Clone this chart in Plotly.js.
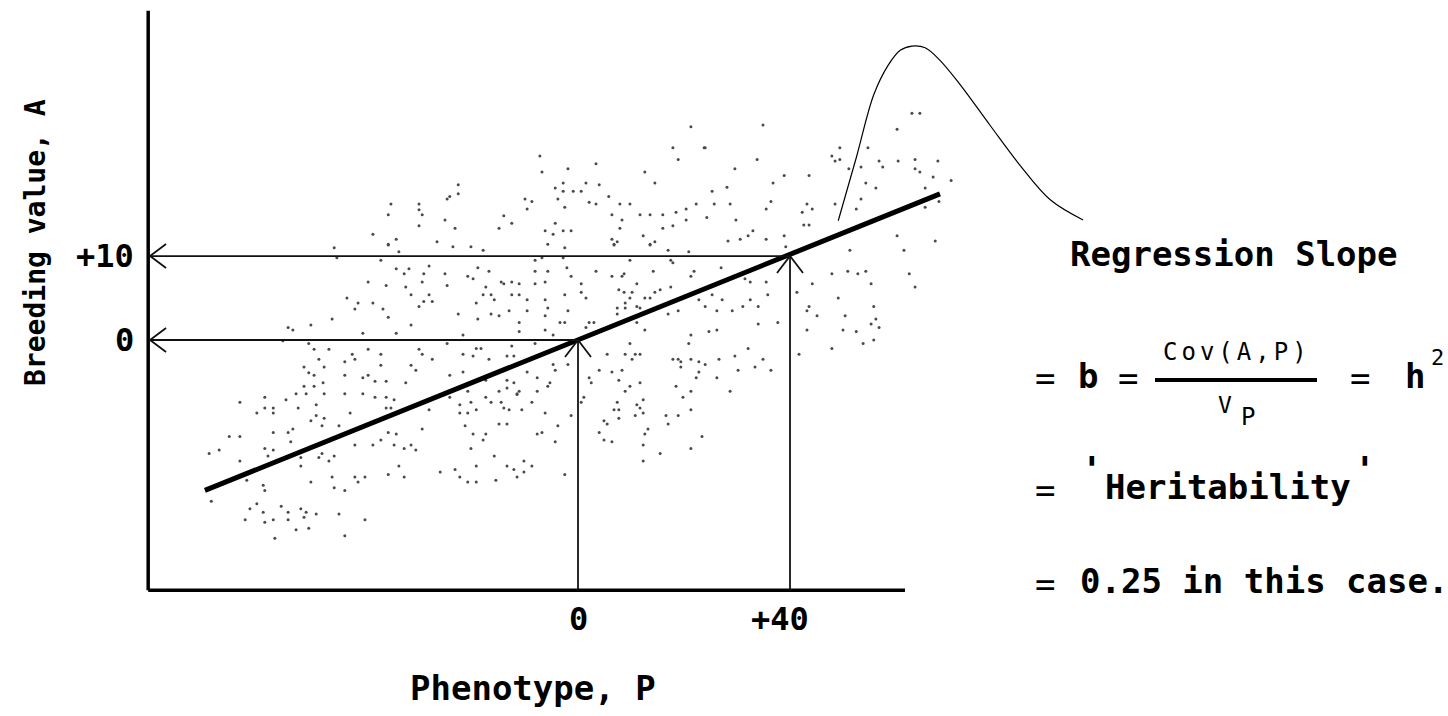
<!DOCTYPE html>
<html>
<head>
<meta charset="utf-8">
<script src="https://cdn.plot.ly/plotly-3.0.1.min.js"></script>
<style>html,body{margin:0;padding:0;background:#fff;}#chart{width:1448px;height:716px;}</style>
</head>
<body>
<div id="chart"></div>
<script>
// ---------- data ----------
// Phenotype P and breeding value A of each individual in the cloud
const phenotype = [
  -35.3,-30.0,-30.0,-35.8,-29.4,-24.7,-25.1,-30.0,-38.7,-34.3,-35.8,-26.6,
  -22.6,-22.6,-24.2,-23.2,-7.2,-6.8,-1.9,3.4,21.3,17.9,18.9,23.8,12.6,14.5,-2.8,-4.3,-2.8,-0.9,0.6,1.5,4.0,-3.8,-10.0,-8.7,-9.6,-14.0,-12.5,-14.9,-2.5,2.1,3.4,5.8,7.9,9.8,6.4,8.3,7.9,11.7,13.6,16.0,18.5,20.4,22.3,20.4,17.9,16.0,-4.3,-6.2,-4.7,-2.8,-1.3,-5.7,6.4,7.4,6.8,12.3,13.6,14.5,
  24.0,34.9,33.8,29.6,38.9,43.6,36.8,25.3,28.1,25.7,28.7,36.4,35.5,24.3,29.8,43.2,42.3,44.2,42.6,43.6,33.0,32.1,30.6,28.3,35.5,38.9,47.9,49.4,48.5,49.4,54.7,51.1,53.4,56.8,57.5,60.4,60.2,63.0,64.5,63.6,63.6,64.5,67.9,67.0,70.4,54.3,56.2,65.5,53.4,52.5,48.5,65.5,68.1,60.2,67.4,
  -46.0,-35.8,-33.8,-45.5,-37.2,-34.3,-32.8,-31.9,-28.1,-29.1,-25.1,-39.6,-36.2,-32.5,-29.4,-24.7,-43.6,-41.5,-42.1,-38.7,-36.8,-31.5,-28.1,-29.1,-27.5,-30.0,-35.8,-46.4,-50.4,-54.7,-53.8,-40.6,-34.3,-31.5,-55.7,-50.8,-49.8,-47.0,-42.6,-42.1,-39.6,-37.2,-37.2,-48.9,-44.0,-30.0,-29.4,-27.5,-24.7,-51.7,-47.9,-50.8,-49.8,-44.0,-39.6,-40.6,-38.3,-36.2,-31.5,-30.6,-32.5,-48.1,-51.7,-49.8,-53.2,-51.3,-47.9,-44.0,-40.6,
  -23.6,-20.2,-17.9,-2.5,6.8,13.6,17.0,20.9,-8.1,-6.8,-2.8,9.8,17.5,17.9,-18.9,-16.8,-8.1,-5.7,-2.1,3.4,14.2,21.9,21.3,-20.8,-19.8,-1.3,6.4,8.3,8.7,-14.5,-14.0,-12.5,-11.1,-8.1,-6.2,0.6,11.1,17.5,15.5,14.5,-17.4,-17.9,-16.4,-12.5,-11.1,-2.5,0.6,1.5,7.7,8.7,10.2,9.8,12.6,13.6,-15.8,-19.2,-9.6,-6.2,8.9,11.1,22.8,-22.6,-18.9,-16.4,-14.9,-13.0,-9.6,-5.7,-6.2,-1.9,7.4,7.4,8.9,11.7,17.0,18.9,-11.1,-3.4,-2.5,2.1,3.0,1.5,11.1,-11.1,-6.2,-21.7,-4.7,12.6,21.3,-8.1,-12.5,20.9,9.8,-21.7,-19.2,-18.3,-19.8,-16.8,-13.4,-12.1,5.5,8.9,10.8,11.7,10.2,17.9,18.9,19.4,21.3,22.8,-4.7,-4.3,-1.9,-21.7,-24.2,-9.6,4.0,6.4,8.3,19.4,22.8,22.3,-17.4,-13.4,-7.7,-5.3,-12.1,2.1,2.5,7.7,9.8,11.7,18.5,-20.8,-14.9,-13.4,-11.1,-7.7,-5.7,8.9,21.3,-11.5,
  39.2,51.3,61.5,27.0,31.5,32.5,35.5,25.3,27.2,35.8,32.5,31.1,34.0,24.0,26.2,29.1,37.7,34.0,24.7,26.2,47.9,50.9,52.8,54.3,44.2,55.3,62.5,63.6,41.3,49.1,43.6,43.2,45.1,50.4,55.8,56.2,55.3,56.8,50.0,52.5,43.2,53.8,55.8,47.9,41.7,32.1,29.6,26.6,24.0,34.9,33.4,30.2,36.4,26.2,28.7,
  -63.8,-59.1,-55.1,-38.3,-36.2,-34.7,-60.6,-59.1,-57.5,-57.5,-52.8,-49.4,-50.4,-49.4,-47.9,-48.3,-43.0,-36.2,-35.3,-28.1,-45.1,-57.5,-54.7,-53.8,-54.2,-65.8,-63.8,-69.6,-67.7,-59.1,-57.5,-58.5,-63.8,-52.3,-52.3,-48.3,-48.9,-47.0,-46.0,-42.1,-38.7,-37.2,-35.8,-34.3,-34.7,-32.8,-31.5,-30.6,-29.4,-33.8,-35.8,-32.8,-26.0,-46.4,-42.1,-41.5,-40.2,-62.5,-59.4,-59.1,-50.4,-46.0,-44.0,-69.2,-61.9,-60.6,-59.4,-62.8,-59.1,-57.5,-56.0,-54.7,-54.7,-52.3,-51.3,-51.7,-49.4,-45.1,-40.2,-53.2,-50.8,-57.2,-44.0,
  -24.2,-17.4,-11.5,-22.3,-20.2,-16.4,-14.5,-8.7,-22.3,-20.8,-19.2,-14.0,-13.0,-10.6,-6.2,-1.3,-21.3,-14.9,-13.4,-3.8,-19.8,-17.4,-17.9,-7.7,-6.8,-4.3,-20.2,-15.8,-23.2,-19.2,-22.3,-20.8,-19.2,-15.5,-13.4,-12.1,-10.2,-10.2,-8.7,-11.5,-2.5,1.1,0.6,7.4,12.3,11.1,11.7,6.8,7.7,12.3,10.8,7.7,4.9,5.5,4.0,4.9,6.4,13.2,12.6,12.3,16.6,18.9,21.3,17.0,23.4,15.5,21.3,12.3,19.8
];
const breedingValue = [
  16.2,16.2,15.5,14.9,14.9,16.8,14.3,13.6,12.6,12.0,11.4,11.7,
  18.5,17.4,17.1,13.3,21.9,20.0,20.4,21.0,25.4,22.9,21.5,22.9,20.0,18.7,18.7,18.1,17.7,17.7,17.7,18.7,18.5,16.8,16.8,16.5,15.6,14.8,13.9,13.3,15.8,16.4,16.2,17.1,16.2,16.2,14.9,14.3,13.3,14.9,14.9,14.9,15.2,15.6,16.2,14.3,13.6,13.3,13.9,13.0,12.6,13.0,13.0,11.4,12.0,11.7,11.4,12.4,11.4,11.7,
  22.9,25.6,21.5,20.4,19.6,19.6,18.7,17.7,18.2,16.2,16.2,16.5,15.6,14.6,14.3,16.2,15.2,15.6,13.7,13.7,13.0,12.4,12.0,11.8,12.0,12.4,21.9,22.9,21.3,21.5,22.9,20.4,20.6,21.3,20.6,21.3,25.1,27.0,27.0,21.5,20.4,20.0,21.3,19.4,19.0,18.7,18.1,18.1,16.8,15.6,16.2,15.8,16.5,12.4,11.8,
  11.0,11.3,10.5,9.8,9.5,8.5,7.9,8.5,8.8,7.9,7.9,6.9,6.5,6.3,6.9,6.5,5.0,4.4,3.7,4.4,3.7,5.4,5.4,4.6,4.6,4.0,2.7,2.5,1.8,1.5,1.2,0.8,0.8,1.8,-0.1,-0.4,-1.1,-1.1,-1.7,-2.3,-1.1,-1.7,-3.0,-2.3,-2.6,-1.1,-1.7,-2.3,-0.4,-3.2,-3.2,-3.9,-4.2,-4.2,-4.2,-4.5,-4.9,-4.9,-3.0,-3.6,-5.1,-5.1,-5.5,-5.5,-6.4,-6.4,-6.4,-6.4,-6.4,
  11.1,11.1,10.7,11.0,11.3,11.3,10.7,10.5,9.5,9.8,9.8,9.5,9.5,9.2,8.6,8.2,8.2,8.2,8.6,8.2,8.2,8.2,7.6,7.6,7.3,7.6,7.6,7.6,7.9,6.9,6.7,6.9,6.7,6.7,6.9,6.7,6.7,6.3,6.0,5.7,6.3,5.4,5.4,5.4,5.4,5.4,5.7,5.0,6.0,5.7,5.7,5.0,5.0,5.0,4.8,4.4,4.8,4.8,4.4,4.0,4.8,3.1,2.5,3.1,2.9,3.5,3.5,3.8,2.9,3.5,3.8,3.1,3.8,3.8,3.1,3.5,2.1,2.1,2.1,2.1,2.1,1.5,2.1,1.0,1.2,0.6,0.6,1.2,0.6,-0.4,-0.7,-0.4,-0.4,-1.7,-1.0,-1.0,-1.9,-2.3,-1.9,-1.9,-1.7,-1.7,-1.7,-1.7,-2.3,-2.3,-2.3,-2.6,-2.3,-2.6,-2.9,-3.6,-2.9,-3.8,-4.2,-3.8,-3.6,-3.8,-3.6,-3.2,-3.8,-4.5,-4.8,-4.8,-4.5,-5.1,-5.1,-4.5,-5.1,-4.8,-5.5,-5.1,-5.5,-6.1,-6.1,-5.7,-6.1,-6.1,-5.5,-6.1,-6.1,-6.4,
  11.1,10.7,10.7,8.6,7.3,6.9,6.9,5.4,4.8,5.4,4.8,4.0,4.0,4.0,3.5,3.5,2.1,1.9,1.0,1.2,7.9,8.2,7.9,8.2,6.7,6.7,7.9,6.3,5.7,5.0,4.0,3.5,2.9,2.9,4.0,2.5,1.9,1.5,1.2,1.0,1.2,-0.4,0.0,-1.0,-1.7,-1.0,-1.9,-2.3,-2.9,-2.3,-3.2,-3.6,-3.6,-4.5,-6.1,
  -7.4,-6.8,-7.1,-6.8,-6.8,-7.1,-8.7,-8.1,-8.1,-8.7,-8.1,-7.7,-9.6,-9.0,-9.3,-10.2,-8.7,-8.1,-8.1,-8.3,-10.2,-11.0,-11.0,-10.6,-12.1,-11.5,-11.5,-13.5,-13.1,-12.9,-13.1,-13.8,-14.4,-14.0,-15.0,-13.5,-14.0,-14.4,-13.8,-12.5,-12.5,-11.9,-11.0,-11.2,-12.5,-12.9,-12.5,-13.1,-10.6,-15.0,-16.0,-16.3,-15.7,-16.3,-16.3,-16.9,-16.3,-16.7,-17.3,-17.9,-16.9,-17.6,-17.9,-19.2,-20.1,-19.5,-20.5,-21.4,-21.7,-21.4,-19.8,-20.5,-21.4,-20.1,-20.5,-21.1,-20.7,-20.7,-21.4,-22.6,-22.4,-23.6,-23.3,
  -6.8,-6.8,-6.5,-7.7,-7.4,-7.4,-7.4,-7.4,-8.7,-8.7,-8.3,-8.1,-8.3,-8.3,-8.7,-9.0,-10.2,-10.0,-10.0,-10.2,-11.2,-11.2,-11.9,-11.2,-11.0,-12.1,-12.9,-13.8,-15.4,-15.0,-16.3,-16.9,-16.9,-16.7,-15.0,-15.4,-14.4,-15.7,-15.0,-16.3,-16.0,-6.8,-7.4,-7.4,-7.1,-7.7,-8.1,-8.3,-8.3,-8.7,-9.0,-9.3,-9.6,-10.0,-11.0,-11.9,-12.1,-10.6,-11.2,-12.5,-9.0,-9.0,-8.3,-10.0,-11.5,-13.5,-12.9,-14.4,-6.8
];
// regression line (slope b = 0.25)
const regressionP = [-70.4, 68.3];
const regressionA = [-17.9, 17.4];
// hand-drawn leader curve to the label
const leaderP = [49.1, 52.5, 55.8, 58.5, 60.8, 63.0, 65.5, 68.3, 72.1, 77.7, 83.4, 89.1, 95.3];
const leaderA = [14.2, 21.7, 29.2, 32.7, 34.5, 35.0, 34.8, 33.3, 30.4, 25.6, 20.8, 16.7, 14.3];
// ticks and axis extents
const xTickVals = [0, 40];
const xTickText = ['0', '+40'];
const yTickVals = [0, 10];
const yTickText = ['0', '+10'];
const axisP = [-81.1, 61.7];
const axisA = [-29.8, 39.2];
const xTitle = 'Phenotype, P';
const yTitle = 'Breeding value, A';

// ---------- drawing ----------
const W = 1448, H = 716;
const fx = p => p / W, fy = p => 1 - p / H;
const FONT = '"DejaVu Sans Mono", "Liberation Mono", monospace';
const INK = '#000';
const xRange = [-109.06, 164.15], yRange = [-44.76, 40.48];
const kx = (xRange[1] - xRange[0]) / W, ky = (yRange[1] - yRange[0]) / H; // data units per pixel

const traces = [
  {x: phenotype, y: breedingValue, mode: 'markers', type: 'scatter', hoverinfo: 'skip',
   marker: {size: 3, color: '#4a4a4a'}},
  {x: regressionP, y: regressionA, mode: 'lines', type: 'scatter', hoverinfo: 'skip',
   line: {color: INK, width: 5}},
  {x: leaderP, y: leaderA, mode: 'lines', type: 'scatter', hoverinfo: 'skip',
   line: {color: INK, width: 1.2, shape: 'spline', smoothing: 1}}
];

const shapes = [
  {type: 'line', xref: 'x', yref: 'y', x0: axisP[0], x1: axisP[0], y0: axisA[0], y1: axisA[1], line: {color: INK, width: 3.5}},
  {type: 'line', xref: 'x', yref: 'y', x0: axisP[0], x1: axisP[1], y0: axisA[0], y1: axisA[0], line: {color: INK, width: 3.5}},
  {type: 'line', xref: 'paper', yref: 'paper', x0: fx(1155), x1: fx(1317), y0: fy(380), y1: fy(380), line: {color: INK, width: 4}}
];
// guide arrows: shaft + open chevron head
function guide(x0, y0, x1, y1, dir) {
  shapes.push({type: 'line', xref: 'x', yref: 'y', x0: x0, y0: y0, x1: x1, y1: y1, line: {color: '#111', width: 1.8}});
  let a, b;
  if (dir === 'left') { a = [x1 + 16 * kx, y1 + 12 * ky]; b = [x1 + 16 * kx, y1 - 12 * ky]; }
  else { a = [x1 - 13 * kx, y1 - 17 * ky]; b = [x1 + 13 * kx, y1 - 17 * ky]; }
  shapes.push({type: 'path', xref: 'x', yref: 'y',
    path: 'M' + a[0] + ',' + a[1] + 'L' + x1 + ',' + y1 + 'L' + b[0] + ',' + b[1],
    line: {color: '#111', width: 1.8}});
}
guide(xTickVals[1], yTickVals[1], axisP[0] + 0.35, yTickVals[1], 'left');
guide(xTickVals[0], yTickVals[0], axisP[0] + 0.35, yTickVals[0], 'left');
guide(xTickVals[0], axisA[0], xTickVals[0], yTickVals[0], 'up');
guide(xTickVals[1], axisA[0], xTickVals[1], yTickVals[1], 'up');

function label(text, x, y, size, extra) {
  return Object.assign({text: text, x: fx(x), y: fy(y), xref: 'paper', yref: 'paper', showarrow: false,
    xanchor: 'center', yanchor: 'middle', font: {family: FONT, size: size, color: INK}}, extra || {});
}
const B = t => '<b>' + t + '</b>';

const annotations = [
  label(B('Regression Slope'), 1234, 254, 34),
  label('=', 1045, 378, 34),
  label(B('b'), 1088, 376, 34),
  label('=', 1128, 378, 34),
  label('<span style="letter-spacing:4px">Cov(A,P)</span>', 1237, 352, 24),
  label('V', 1225, 405, 23),
  label('P', 1248, 417, 24),
  label('=', 1360, 378, 34),
  label(B('h'), 1415, 376, 34),
  label('2', 1437, 357, 22),
  label('=', 1045, 490, 34),
  label(B("'"), 1092, 470, 36),
  label(B('Heritability'), 1228, 487, 34),
  label(B("'"), 1365, 469, 36),
  label('=', 1045, 584, 34),
  label(B('0.25 in this case.'), 1078, 581, 34, {xanchor: 'left'}),
  label(B(xTitle), 533, 688, 34),
  label(B(yTitle), 35, 243, 28, {textangle: -90})
];
xTickVals.forEach((v, i) => annotations.push({
  text: B(xTickText[i]), x: v, y: axisA[0], xref: 'x', yref: 'y', showarrow: false,
  xanchor: 'center', yanchor: 'middle', yshift: -29, xshift: i === 1 ? -10 : 0,
  font: {family: FONT, size: 32, color: INK}}));
yTickVals.forEach((v, i) => annotations.push({
  text: B(yTickText[i]), x: axisP[0], y: v, xref: 'x', yref: 'y', showarrow: false,
  xanchor: 'right', yanchor: 'middle', xshift: -12,
  font: {family: FONT, size: 32, color: INK}}));

const layout = {
  width: W, height: H, margin: {l: 0, r: 0, t: 0, b: 0},
  paper_bgcolor: '#fff', plot_bgcolor: '#fff', showlegend: false,
  xaxis: {range: xRange, visible: false, fixedrange: true},
  yaxis: {range: yRange, visible: false, fixedrange: true},
  shapes: shapes, annotations: annotations
};
Plotly.newPlot('chart', traces, layout, {displayModeBar: false, staticPlot: true});
</script>
</body>
</html>
